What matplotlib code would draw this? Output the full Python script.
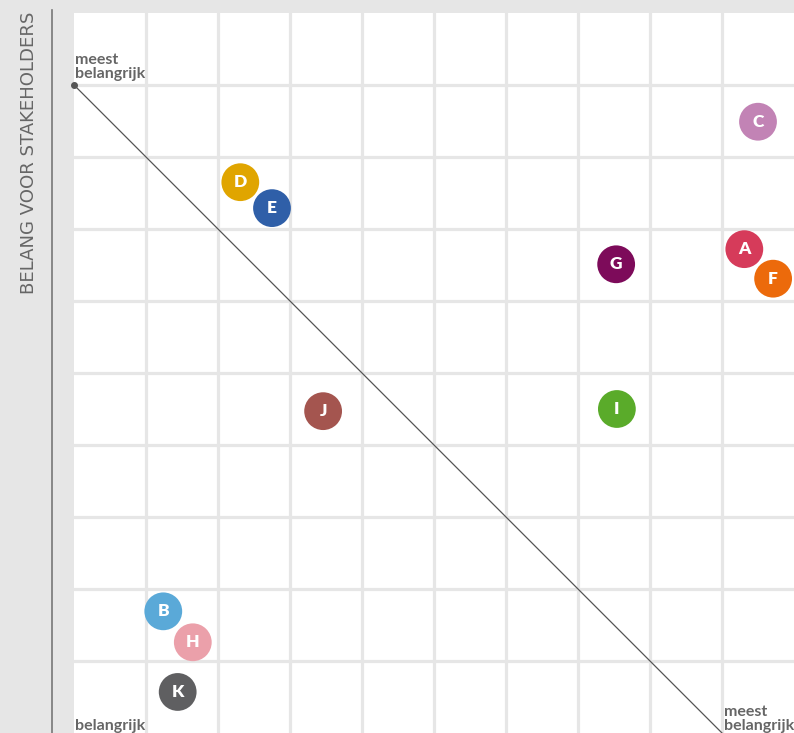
import matplotlib
matplotlib.use("Agg")
import matplotlib.pyplot as plt
from matplotlib.lines import Line2D

# stakeholder matrix: letter codes, positions (grid units 0-10), colours
labels = ["A", "B", "C", "D", "E", "F", "G", "H", "I", "J", "K"]
x_vals = [9.31, 1.24, 9.50, 2.31, 2.75, 9.71, 7.53, 1.65, 7.54, 3.46, 1.44]
y_vals = [6.72, 1.69, 8.49, 7.65, 7.29, 6.31, 6.51, 1.26, 4.50, 4.47, 0.57]
colors = ["#d63b5a", "#5aa9d8", "#c283b5", "#e0a500", "#2f5fa8", "#ec6a0b",
          "#7d0b5a", "#eba0aa", "#5aab2a", "#a4554f", "#5f5f61"]

diag_x = [0, 9]
diag_y = [9, 0]

BG = "#e6e6e6"
TXT = "#666666"

fig = plt.figure(figsize=(7.94, 7.33), dpi=100, facecolor=BG)
ax = fig.add_axes([74 / 794, 0, 720 / 794, 720 / 733])
ax.set_xlim(0, 10)
ax.set_ylim(0, 10)
ax.set_facecolor("white")
for s in ax.spines.values():
    s.set_visible(False)
ax.set_xticks([])
ax.set_yticks([])

for v in range(1, 10):
    ax.axvline(v, color=BG, lw=2.3, zorder=1)
    ax.axhline(v, color=BG, lw=2.3, zorder=1)

ax.plot(diag_x, diag_y, color="#555555", lw=0.9, zorder=2, clip_on=False)
ax.plot(diag_x[0], diag_y[0], "o", color="#555555", ms=4, zorder=2, clip_on=False)

ax.scatter(x_vals, y_vals, s=740, c=colors, linewidths=0, zorder=3)
for lab, x, y in zip(labels, x_vals, y_vals):
    ax.text(x, y, lab, color="white", fontsize=12.5, fontweight="heavy",
            family="Lato", ha="center", va="center", zorder=4)

ax.text(0.02, 9.06, "meest\nbelangrijk", color=TXT, fontsize=11.5,
        fontweight="bold", family="Lato", ha="left", va="bottom",
        linespacing=1.0, zorder=4)
ax.text(0.02, 0.0, "belangrijk", color=TXT, fontsize=11.5,
        fontweight="bold", family="Lato", ha="left", va="bottom",
        zorder=4, clip_on=False)
ax.text(9.03, 0.0, "meest\nbelangrijk", color=TXT, fontsize=11.5,
        fontweight="bold", family="Lato", ha="left", va="bottom",
        linespacing=1.0, zorder=4, clip_on=False)

# left axis line and label
fig.add_artist(Line2D([52 / 794, 52 / 794], [0, 1 - 10 / 733],
                      color="#777777", lw=1.2))
fig.text(29 / 794, 1 - 12 / 733, "BELANG VOOR STAKEHOLDERS", rotation=90,
         color=TXT, fontsize=13.1, family="Liberation Sans Narrow",
         ha="center", va="top")

fig.savefig("out.png", dpi=100, facecolor=BG)
